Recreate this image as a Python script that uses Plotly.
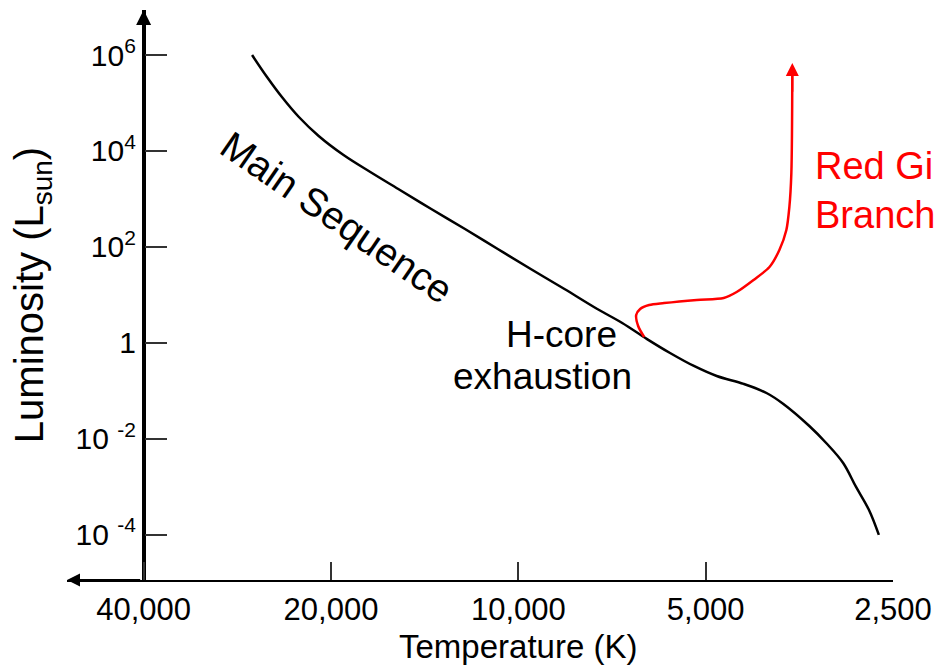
import numpy as np
import plotly.graph_objects as go

# ---- data ----
ms_temp = [26780, 25340, 23980, 22520, 20930, 19090, 17290, 15590, 13800, 12180,
           10790, 9550, 8430, 7465, 6808, 6210, 5704, 5222, 4799, 4344,
           3992, 3750, 3407, 3201, 3006, 2866, 2732, 2634]
ms_lum = [1e6, 3.48e5, 1.33e5, 5.09e4, 2.05e4, 8210, 3630, 1605, 614, 235,
          90.0, 34.4, 13.2, 5.05, 2.58, 1.19, 0.61, 0.327, 0.202, 0.138,
          0.0893, 0.0527, 0.0183, 0.0081, 0.0031, 9.8e-4, 3.24e-4, 9.8e-5]

rgb_temp = [6277, 6418, 6465, 6371, 6163, 5831, 5166, 4677, 4458, 4188,
            3948, 3806, 3709, 3668, 3641, 3628]
rgb_lum = [1.315, 2.23, 3.78, 5.04, 6.1, 6.7, 7.8, 8.55, 11.4, 20.3,
           37.9, 85.8, 224, 676, 3460, 4.9e5]

x_tickvals = [40000, 20000, 10000, 5000, 2500]
x_ticktext = ["40,000", "20,000", "10,000", "5,000", "2,500"]
y_tickvals = [1e6, 1e4, 1e2, 1, 1e-2, 1e-4]
y_ticktext = ["10<sup>6</sup>", "10<sup>4</sup>", "10<sup>2</sup>", "1",
              "10 <sup>-2</sup>", "10 <sup>-4</sup>"]

FONT = "Liberation Sans, Arial, Helvetica, sans-serif"

x_range = [4.7252, 3.3979]      # log10 units, reversed (hot on the left)
y_range = [-4.949, 6.9385]      # log10 units

fig = go.Figure()
fig.add_trace(go.Scatter(x=ms_temp, y=ms_lum, mode="lines",
                         line=dict(color="black", width=2.5, shape="spline", smoothing=1.0),
                         hoverinfo="skip"))
fig.add_trace(go.Scatter(x=rgb_temp, y=rgb_lum, mode="lines",
                         line=dict(color="#ff0000", width=2.5, shape="spline", smoothing=0.8),
                         hoverinfo="skip"))

ann = []
# y axis arrow head (top)
ann.append(dict(x=np.log10(40000), y=y_range[1], xref="x", yref="y",
                ax=np.log10(40000), ay=y_range[1] - 0.8, axref="x", ayref="y",
                text="", showarrow=True, arrowhead=2, arrowsize=1.0, arrowwidth=3,
                arrowcolor="black"))
# x axis arrow head (left)
ann.append(dict(x=x_range[0], y=y_range[0], xref="x", yref="y",
                ax=x_range[0] - 0.12, ay=y_range[0], axref="x", ayref="y",
                text="", showarrow=True, arrowhead=2, arrowsize=1.3, arrowwidth=2,
                arrowcolor="black"))
# red giant branch arrow head
ann.append(dict(x=np.log10(rgb_temp[-1]), y=5.833, xref="x", yref="y",
                ax=np.log10(rgb_temp[-1]), ay=5.2, axref="x", ayref="y",
                text="", showarrow=True, arrowhead=2, arrowsize=1.3, arrowwidth=2,
                arrowcolor="#ff0000"))
# labels
ann.append(dict(x=4.2919, y=2.601, xref="x", yref="y", text="Main Sequence",
                showarrow=False, textangle=34.5,
                font=dict(family=FONT, size=39, color="black")))
ann.append(dict(x=3.9305, y=0.161, xref="x", yref="y", text="H-core",
                showarrow=False, font=dict(family=FONT, size=37, color="black")))
ann.append(dict(x=3.9609, y=-0.715, xref="x", yref="y", text="exhaustion",
                showarrow=False, font=dict(family=FONT, size=37, color="black")))
ann.append(dict(x=3.526, y=3.164, xref="x", yref="y", text="Red Gi<br>Branch",
                showarrow=False, xanchor="left", align="left",
                font=dict(family=FONT, size=38, color="#ff0000")))
# x axis title
ann.append(dict(x=0.5458, y=-0.1175, xref="paper", yref="paper", text="Temperature (K)",
                showarrow=False, xanchor="center", yanchor="middle",
                font=dict(family=FONT, size=33, color="black")))

fig.update_layout(
    width=942, height=666, autosize=False,
    margin=dict(l=67, r=45, t=10, b=86),
    paper_bgcolor="white", plot_bgcolor="white",
    showlegend=False,
    annotations=ann,
    xaxis=dict(type="log", range=x_range, showgrid=False, zeroline=False,
               showline=True, linecolor="black", linewidth=2,
               tickmode="array", tickvals=x_tickvals, ticktext=x_ticktext,
               ticks="inside", ticklen=18, tickwidth=1.5, tickcolor="#333",
               ticklabelstandoff=1,
               tickfont=dict(family=FONT, size=31, color="black")),
    yaxis=dict(type="log", range=y_range, showgrid=False, zeroline=False,
               anchor="free", position=0.09277,
               showline=True, linecolor="black", linewidth=3.5,
               tickmode="array", tickvals=y_tickvals, ticktext=y_ticktext,
               ticks="inside", ticklen=22, tickwidth=1.5, tickcolor="#333",
               tickfont=dict(family=FONT, size=30, color="black"),
               title=dict(text="Luminosity (L<sub>sun</sub>)", standoff=18,
                          font=dict(family=FONT, size=40, color="black"))),
)

fig.write_html("out.html")
